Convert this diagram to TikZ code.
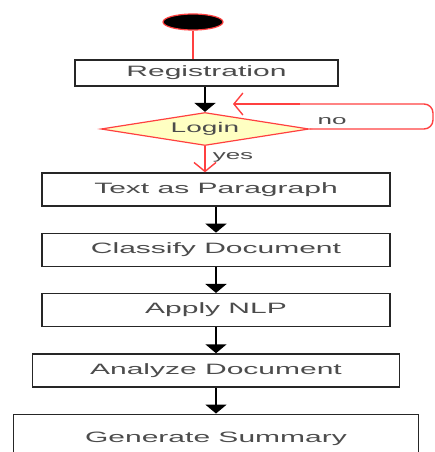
\documentclass[tikz,border=0pt]{standalone}
\usepackage{graphicx}
\usepackage{fontspec}
\setmainfont{Liberation Sans}
\usetikzlibrary{shapes, shapes.geometric, arrows.meta, positioning}
\definecolor{myred}{rgb}{1, .25, .25}
\definecolor{myyellow}{rgb}{1, 1, .76}
\definecolor{mygray}{rgb}{.3, .3, .3}
\newcommand{\wide}[1]{\scalebox{2}[1]{#1}}
\tikzset{basic/.style={draw=black!85,line width=1.3pt,fill=white,minimum height=33pt,text=mygray,font=\fontsize{15}{15}\selectfont}}
\tikzset{decision/.style={diamond,draw=myred,line width=1.2pt,fill=myyellow,aspect=6.3,inner sep=0pt,minimum width=208pt,minimum height=33pt,text=black!70,font=\fontsize{14}{14}\selectfont}}
\tikzset{label/.style={text=mygray,font=\fontsize{13}{13}\selectfont,inner sep=0pt}}
\tikzset{flow/.style={draw=black,line width=2pt,-{Triangle[width=21pt,length=9pt]}}}
\tikzset{redflow/.style={draw=myred,line width=1.4pt,-{Straight Barb[width=22pt,length=9pt]}}}

\begin{document}
\begin{tikzpicture}[x=1pt,y=-1pt]
\useasboundingbox (0,0) rectangle (435,452);

% Define start and login
\node[ellipse,draw=myred,line width=1.2pt,fill=black,minimum width=60pt,minimum height=16pt] (start) at (193,22) {};
\node[basic,minimum width=263pt,minimum height=26pt] (reg) at (206.5,73) {\wide{Registration}};
\node[decision] (login) at (205,129) {\wide{Login}};

% Define process boxes
\node[basic,minimum width=348pt] (para) at (216,189.5) {\wide{Text as Paragraph}};
\node[basic,minimum width=348pt,below=26pt of para] (classify) {\wide{Classify Document}};
\node[basic,minimum width=348pt,below=26pt of classify] (nlp) {\wide{Apply NLP}};
\node[basic,minimum width=367pt,below=26pt of nlp] (analyze) {\wide{Analyze Document}};
\node[basic,minimum width=405pt,minimum height=50pt,below=26pt of analyze] (summary) {\wide{Generate Summary}};

% Draw lines from start to login
\path[draw=myred,line width=1.6pt] (start) -- (start |- reg.north);
\path[flow] (reg.south -| login.north) -- (login.north);

% Draw the loop back
\coordinate (back) at (233,104);
\path[draw=myred,line width=1.4pt,rounded corners=9pt] (login.east) -- (433,129) -- (433,104) -- (300,104);
\path[redflow] (300,104) -- (back);
\node[label] (no) at (332,121) {\wide{no}};

% Draw lines from login to summary
\path[redflow] (login.south) -- (login.south |- para.north);
\node[label] (yes) at (233,157) {\wide{yes}};
\path[flow] (para) -- (classify);
\path[flow] (classify) -- (nlp);
\path[flow] (nlp) -- (analyze);
\path[flow] (analyze) -- (summary);

\end{tikzpicture}
\end{document}
